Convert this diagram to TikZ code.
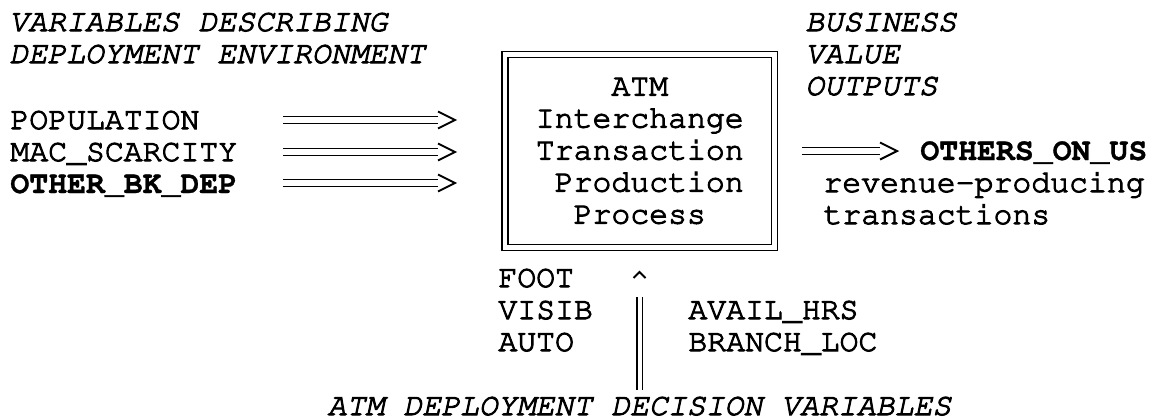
\documentclass[tikz,border=0pt]{standalone}
\usepackage[T1]{fontenc}
\usepackage{courier}
\renewcommand{\familydefault}{\ttdefault}
\usetikzlibrary{positioning}
% a slightly heavier typewriter stroke
\newcommand{\inked}{\special{pdf:literal 2 Tr 0.5 w}}
\newcommand{\heavy}[1]{{\special{pdf:literal 2 Tr 0.15 w}\textbf{#1}}}
\tikzset{
  txt/.style={font=\fontsize{15.75}{16}\selectfont\inked, inner sep=0pt, align=left, anchor=base west},
  heading/.style={txt, font=\fontsize{15.75}{16}\selectfont\itshape\inked},
  dbl/.style={double, double distance=2.6pt, line width=0.9pt},
  dblthin/.style={double, double distance=2pt, line width=0.7pt},
  chevron/.style={line width=1pt, line join=miter},
}

\begin{document}
\begin{tikzpicture}[x=0.5pt, y=-0.5pt]
  \useasboundingbox[fill=white] (0,0) rectangle (1157,418);

  % headings (a multi-line node sits on its last line)
  \node[heading] (envhead) at (9,63) {VARIABLES DESCRIBING\\DEPLOYMENT ENVIRONMENT};
  \node[heading] (valhead) at (805,95) {BUSINESS\\VALUE\\OUTPUTS};

  % environment inputs
  \node[txt] (envvars) at (10,193) {POPULATION\\MAC\_SCARCITY\\\heavy{OTHER\_BK\_DEP}};

  % production process box
  \node[draw, double, double distance=2.2pt, line width=0.75pt,
        minimum width=134.75pt, minimum height=96.5pt, inner sep=0pt,
        align=left, font=\fontsize{15.75}{16}\selectfont\inked] (atm) at (639.75,151)
        {\phantom{MMMM}ATM\\Interchange\\Transaction\\\phantom{M}Production\\\phantom{MM}Process};

  % outputs
  \node[txt] (others) at (920,160) {\heavy{OTHERS\_ON\_US}};
  \node[txt] (revenue) at (823,224) {revenue-producing\\transactions};

  % decision variables
  \node[txt] (physvars) at (498,351) {FOOT\\VISIB\\AUTO};
  \node[txt] (sitevars) at (688,351) {AVAIL\_HRS\\BRANCH\_LOC};
  \node[heading, anchor=base] (dechead) at (639.5,415) {ATM DEPLOYMENT DECISION VARIABLES};

  % input arrows
  \foreach \n/\y in {pop/120, mac/152, obk/183} {
    \coordinate (\n-s) at (283,\y);
    \coordinate (\n-e) at (438,\y);
    \draw[dbl] (\n-s) -- (\n-e);
    \draw[chevron] ([yshift=4.25pt]\n-e) -- ([xshift=8.5pt]\n-e) -- ([yshift=-4.25pt]\n-e);
  }

  % output arrow
  \coordinate (out-s) at (802,151);
  \coordinate (out-e) at (880,151);
  \draw[dbl] (out-s) -- (out-e);
  \draw[chevron] ([yshift=4.25pt]out-e) -- ([xshift=8.5pt]out-e) -- ([yshift=-4.25pt]out-e);

  % decision arrow
  \coordinate (up-e) at (639.5,297);
  \coordinate (caret) at (639.5,272);
  \draw[dblthin] ([yshift=3pt]dechead.north) -- (up-e);
  \draw[chevron] ([shift={(-3pt,-3pt)}]caret) -- (caret) -- ([shift={(3pt,-3pt)}]caret);
\end{tikzpicture}
\end{document}
